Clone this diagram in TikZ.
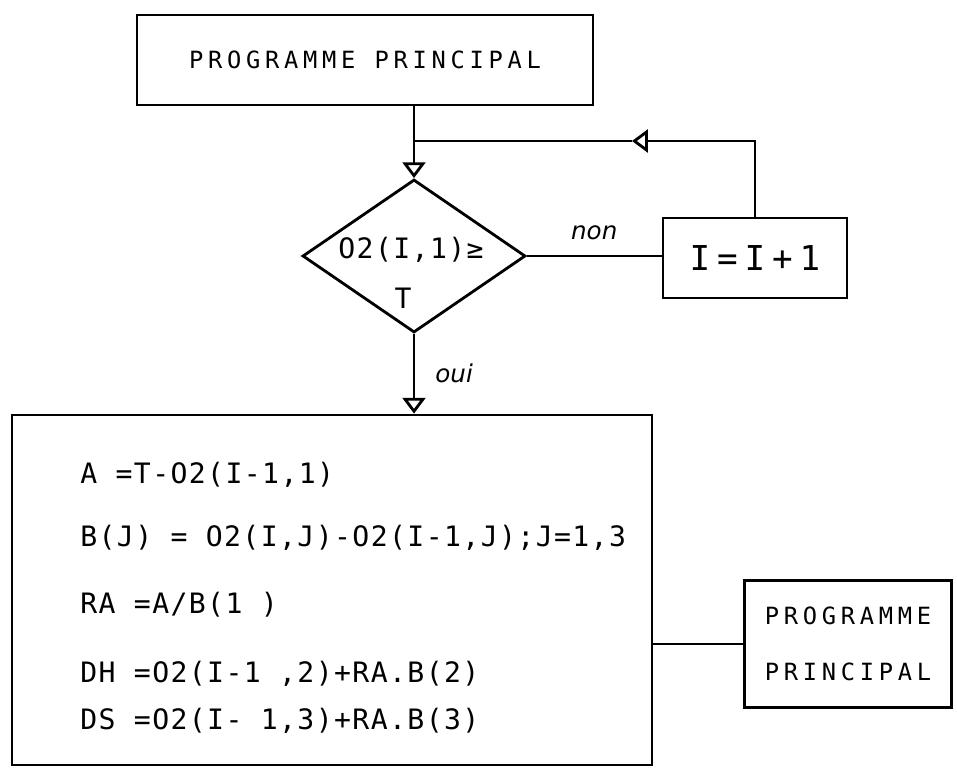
\documentclass[tikz,border=0pt]{standalone}
\usepackage{fontspec}
\newfontfamily\printfont[LetterSpace=5]{DejaVu Sans Mono}
\newfontfamily\widefont[LetterSpace=20]{DejaVu Sans Mono}
\newfontfamily\incrfont[LetterSpace=20]{DejaVu Sans Mono}
\newfontfamily\handfont{DejaVu Sans}
\usetikzlibrary{arrows.meta,positioning,shapes.geometric}

\begin{document}
\begin{tikzpicture}[x=0.02cm,y=-0.02cm,every node/.style={inner sep=0pt}]
\tikzstyle{box}=[draw,line width=1.6pt]
\tikzstyle{prog}=[box,font=\widefont\fontsize{13.5}{32}\selectfont,align=center]
\tikzstyle{txt}=[font=\printfont\fontsize{16}{19}\selectfont]
\tikzstyle{hand}=[font=\handfont\itshape\fontsize{14}{16}\selectfont]
\tikzstyle{flow}=[line width=1.6pt]
\tikzstyle{tip}=[-{Triangle[open,length=9pt,width=13pt]}]
\useasboundingbox (0,0) rectangle (957,774);
\node[prog,minimum width=9.12cm,minimum height=1.8cm] (top) at (365,60) {PROGRAMME PRINCIPAL};
\node[box,diamond,minimum width=4.46cm,minimum height=3.06cm] (test) at (414,256) {};
\node[txt] (cond) at (411,250) {O2(I,1)≥};
\node[txt] (condT) at (403,298) {T};
\node[box,minimum width=3.68cm,minimum height=1.6cm,font=\incrfont\fontsize{19.5}{22}\selectfont] (incr) at (755,258) {I=I+1};
\node[box,minimum width=12.8cm,minimum height=7cm] (calc) at (332,590) {};
\foreach \n/\yy/\t in {1/483/{A =T-O2(I-1,1)},2/546/{B(J) = O2(I,J)-O2(I-1,J);J=1,3},3/613/{RA =A/B(1 )},4/682/{DH =O2(I-1 ,2)+RA.B(2)},5/729/{DS =O2(I- 1,3)+RA.B(3)}}
  \node[txt,anchor=base west] (line\n) at (80,\yy) {\t};
\node[prog,minimum width=4.14cm,minimum height=2.54cm] (prog2) at (848,644) {PROGRAMME\\PRINCIPAL};
% liaisons
\coordinate (join) at (414,141);
\coordinate (ret) at (632,141);
\draw[flow,tip] (top.south -| test.north) -- (test.north);
\draw[flow,tip] (incr.north) |- (ret);
\draw[flow] (ret) -- (join);
\draw[flow] (test.east) -- (test.east -| incr.west) node[hand,midway,above=0.3cm] {non};
\draw[flow,tip] (test.south) -- (test.south |- calc.north) node[hand,midway,right=0.4cm] {oui};
\draw[flow] (calc.east |- prog2.west) -- (prog2.west);
\end{tikzpicture}
\end{document}
